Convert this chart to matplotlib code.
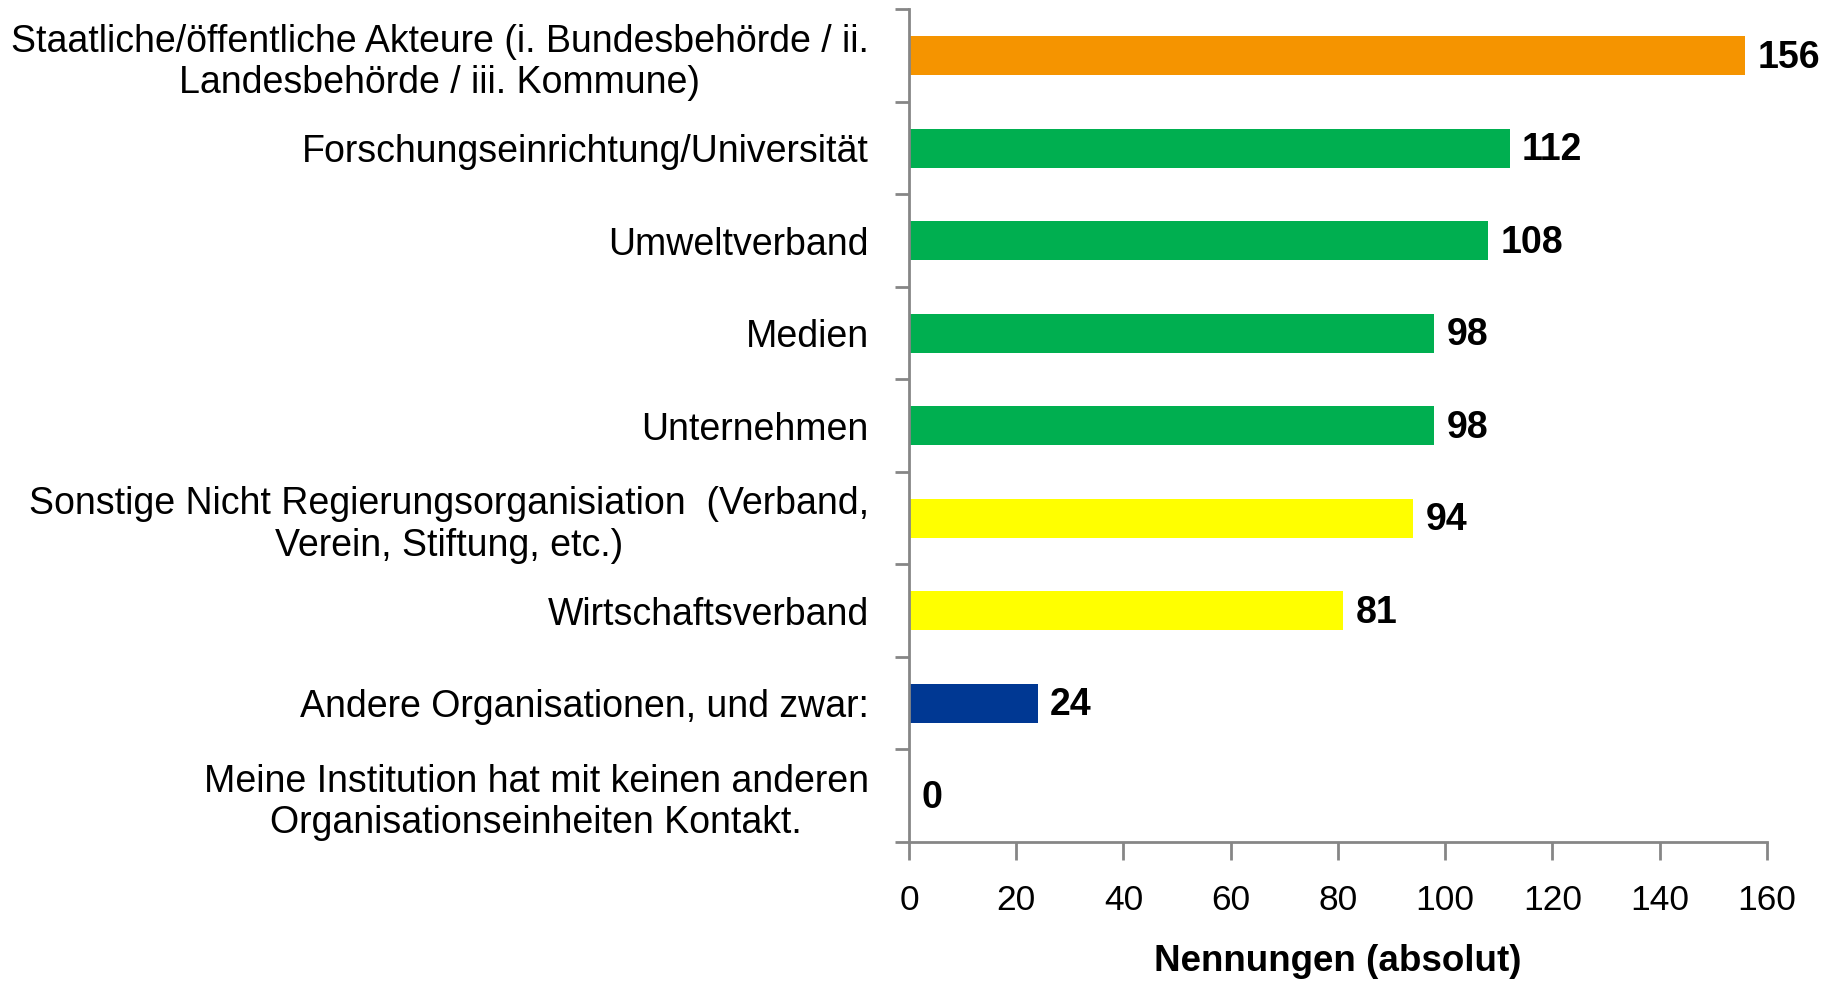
import matplotlib
matplotlib.use("Agg")
import matplotlib.pyplot as plt
import numpy as np

# Daten (von oben nach unten)
kategorien = [
    "Staatliche/öffentliche Akteure (i. Bundesbehörde / ii.\nLandesbehörde / iii. Kommune)",
    "Forschungseinrichtung/Universität",
    "Umweltverband",
    "Medien",
    "Unternehmen",
    "Sonstige Nicht Regierungsorganisiation  (Verband,\nVerein, Stiftung, etc.)",
    "Wirtschaftsverband",
    "Andere Organisationen, und zwar:",
    "Meine Institution hat mit keinen anderen\nOrganisationseinheiten Kontakt.",
]
nennungen = [156, 112, 108, 98, 98, 94, 81, 24, 0]
farben = ["#F59400", "#00AF50", "#00AF50", "#00AF50", "#00AF50",
          "#FFFF00", "#FFFF00", "#003893", "#003893"]
x_ticks = [0, 20, 40, 60, 80, 100, 120, 140, 160]

plt.rcParams['font.family'] = ['Liberation Sans', 'DejaVu Sans']

fig = plt.figure(figsize=(18.39, 9.81), dpi=100)
ax = fig.add_axes([0.4943, 0.1417, 0.9608 - 0.4943, 0.9904 - 0.1417])

y = np.arange(len(kategorien))
ax.barh(y, nennungen, height=0.42, color=farben)
ax.set_ylim(len(kategorien) - 0.5, -0.5)
ax.set_xlim(0, 160)

# Werte neben den Balken
for yi, wert in zip(y, nennungen):
    ax.annotate(str(wert), (wert, yi), xytext=(9, -1.5), textcoords="offset points",
                ha="left", va="center", fontsize=27, fontweight="bold")

# Achsen
achsenfarbe = "#868686"
for s in ["top", "right"]:
    ax.spines[s].set_visible(False)
for s in ["left", "bottom"]:
    ax.spines[s].set_color(achsenfarbe)
    ax.spines[s].set_linewidth(2)

ax.set_xticks(x_ticks)
ax.tick_params(axis="x", length=13, width=2, color=achsenfarbe, pad=17, labelsize=25.5)

ax.set_yticks(y)
ax.set_yticklabels(kategorien, fontsize=27, multialignment="center", linespacing=1.2)
ax.tick_params(axis="y", which="major", length=0, pad=29)
ax.set_yticks(np.arange(-0.5, len(kategorien), 1), minor=True)
ax.tick_params(axis="y", which="minor", length=10, width=2, color=achsenfarbe)

ax.set_xlabel("Nennungen (absolut)", fontsize=26.5, fontweight="bold", labelpad=20)

fig.savefig("out.png", dpi=100)
